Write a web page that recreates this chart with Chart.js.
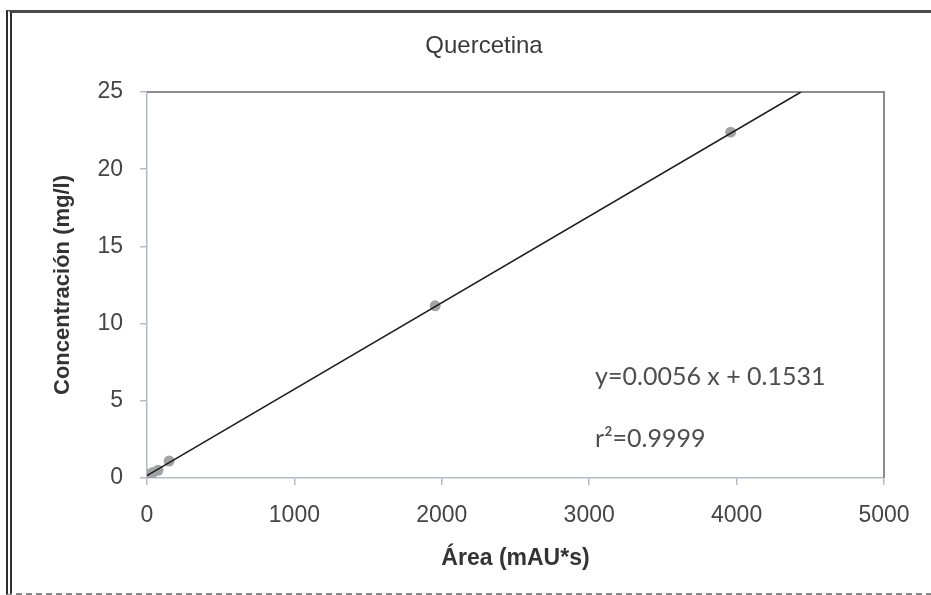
<!DOCTYPE html>
<html>
<head>
<meta charset="utf-8">
<script src="https://cdn.jsdelivr.net/npm/chart.js@4"></script>
<style>
  html, body { margin: 0; padding: 0; background: #fff; overflow: hidden; }
  #marco {
    position: absolute; left: 6px; top: 10px; width: 960px; height: 580px;
    border-left: 6px double #2e2e2e;
    border-top: 3px solid #4a4a4a;
    border-bottom: 2px dashed #8a8a8a;
  }
  #lienzo { position: absolute; left: 0; top: 0; }
</style>
</head>
<body>
<div id="marco"></div>
<canvas id="lienzo" width="931" height="595"></canvas>
<script>
// Datos de calibración
const areaMuestras = [15, 40, 75, 150, 1955, 3960];
const concMuestras = [0.25, 0.35, 0.5, 1.1, 11.15, 22.4];

// Recta de regresión (extremos)
const areaRecta = [0, 4437];
const concRecta = [0.15, 25];

// Marcas de los ejes
const ticksX = [0, 1000, 2000, 3000, 4000, 5000];
const ticksY = [0, 5, 10, 15, 20, 25];

const titulo = 'Quercetina';
const textoEcuacion = 'y=0.0056 x + 0.1531';
const textoR2 = 'r\u00b2=0.9999';

const colorEje = '#b3bbcb';

// Título, texto de la ecuación y marco superior/derecho del área del gráfico
const pluginExtra = {
    id: 'extra',
    beforeDatasetsDraw(chart) {
        const { ctx, chartArea } = chart;
        ctx.save();
        ctx.strokeStyle = '#8c8c8c';
        ctx.lineWidth = 2;
        ctx.beginPath();
        ctx.moveTo(chartArea.left, chartArea.top);
        ctx.lineTo(chartArea.right, chartArea.top);
        ctx.lineTo(chartArea.right, chartArea.bottom);
        ctx.stroke();
        ctx.restore();
    },
    afterDraw(chart) {
        const { ctx, scales } = chart;
        ctx.save();
        ctx.fillStyle = '#3a3a3a';
        ctx.font = '24px "Liberation Sans"';
        ctx.textBaseline = 'middle';
        ctx.textAlign = 'center';
        ctx.fillText(titulo, 484, 46);

        ctx.fillStyle = '#4e4e4e';
        ctx.font = '25px Lato';
        ctx.textAlign = 'left';
        ctx.fillText(textoEcuacion, scales.x.getPixelForValue(3040), scales.y.getPixelForValue(6.55));
        ctx.fillText(textoR2, scales.x.getPixelForValue(3040), scales.y.getPixelForValue(2.55));
        ctx.restore();
    }
};

const ctx = document.getElementById('lienzo').getContext('2d');

new Chart(ctx, {
    type: 'scatter',
    data: {
        datasets: [{
            label: 'Muestras',
            data: areaMuestras.map((a, i) => ({ x: a, y: concMuestras[i] })),
            backgroundColor: '#a3a3a3',
            borderColor: '#a3a3a3',
            borderWidth: 0,
            pointRadius: 5.5,
            order: 2
        }, {
            label: 'Recta',
            type: 'line',
            data: areaRecta.map((a, i) => ({ x: a, y: concRecta[i] })),
            borderColor: '#1e1e1e',
            borderWidth: 1.6,
            pointRadius: 0,
            fill: false,
            order: 1
        }]
    },
    options: {
        responsive: false,
        animation: false,
        layout: { padding: { left: 0, right: 47, top: 92, bottom: 0 } },
        scales: {
            x: {
                type: 'linear',
                min: 0,
                max: 5000,
                afterBuildTicks: s => { s.ticks = ticksX.map(v => ({ value: v })); },
                afterFit: s => { s.height = 117; },
                border: { display: true, color: colorEje, width: 1.5 },
                grid: { drawOnChartArea: false, drawTicks: true, tickLength: 7, color: colorEje, lineWidth: 1.5 },
                ticks: {
                    padding: 17,
                    color: '#454545',
                    font: { family: 'Liberation Sans', size: 23 },
                    callback: v => String(v)
                },
                title: {
                    display: true,
                    text: 'Área (mAU*s)',
                    color: '#333',
                    font: { family: 'Liberation Sans', size: 23, weight: 'bold' },
                    padding: { top: 0, bottom: 23 }
                }
            },
            y: {
                min: 0,
                max: 25,
                afterBuildTicks: s => { s.ticks = ticksY.map(v => ({ value: v })); },
                afterFit: s => { s.width = 147; },
                border: { display: true, color: colorEje, width: 1.5 },
                grid: { drawOnChartArea: false, drawTicks: true, tickLength: 7, color: colorEje, lineWidth: 1.5 },
                ticks: {
                    padding: 17,
                    color: '#454545',
                    font: { family: 'Liberation Sans', size: 23 },
                    callback: v => String(v)
                },
                title: {
                    display: true,
                    text: 'Concentración (mg/l)',
                    color: '#333',
                    font: { family: 'Liberation Sans', size: 22, weight: 'bold' },
                    padding: { top: 50, bottom: 0 }
                }
            }
        },
        plugins: {
            legend: { display: false },
            tooltip: { enabled: false },
            title: { display: false }
        }
    },
    plugins: [pluginExtra]
});
</script>
</body>
</html>
